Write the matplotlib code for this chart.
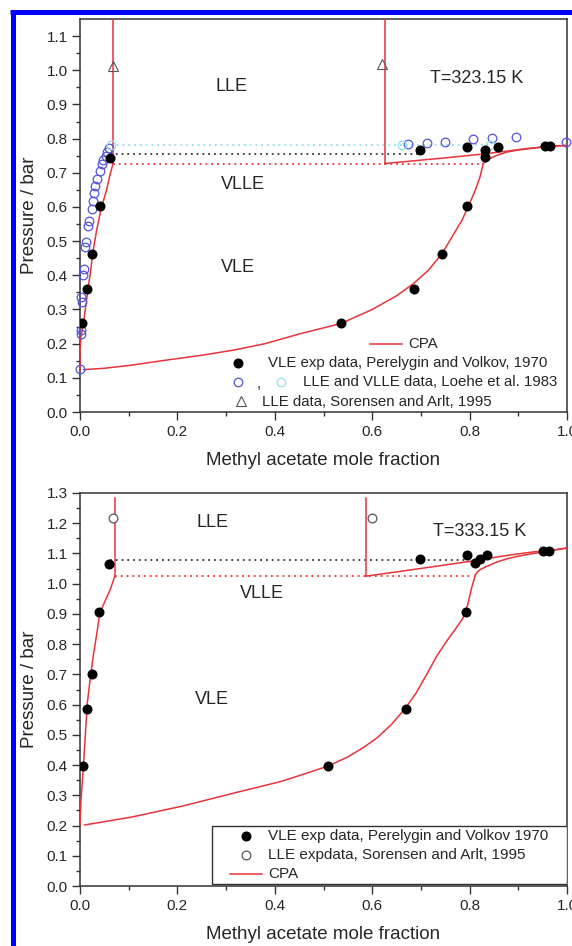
import matplotlib
matplotlib.use("Agg")
import matplotlib.pyplot as plt
from matplotlib.lines import Line2D
from matplotlib.patches import Rectangle

plt.rcParams['font.family'] = ['Liberation Sans', 'DejaVu Sans']

RED = "#e8333a"
BLUE_O = "#5454dc"
CYAN_O = "#8fe0ec"
TXT = "#262626"

# ---------------- T = 323.15 K ----------------
t1_bub_w_x = [0.000, 0.000, 0.002, 0.007, 0.012, 0.017, 0.022, 0.026, 0.030, 0.034, 0.039, 0.044, 0.050, 0.055, 0.061, 0.068]
t1_bub_w_p = [0.123, 0.180, 0.220, 0.259, 0.312, 0.365, 0.415, 0.463, 0.497, 0.531, 0.565, 0.600, 0.627, 0.652, 0.690, 0.728]
t1_lle_w_x = [0.068, 0.068]
t1_lle_w_p = [0.728, 1.15]
t1_lle_o_x = [0.626, 0.626]
t1_lle_o_p = [0.727, 1.15]
t1_bub_o_x = [0.626, 0.700, 0.760, 0.828, 0.880, 0.924, 0.965, 1.000]
t1_bub_o_p = [0.727, 0.737, 0.745, 0.755, 0.764, 0.772, 0.777, 0.780]
t1_dew_w_x = [0.008, 0.050, 0.100, 0.178, 0.250, 0.315, 0.380, 0.452, 0.536, 0.600, 0.650, 0.684, 0.715, 0.743, 0.765, 0.784, 0.800, 0.812, 0.821, 0.828]
t1_dew_w_p = [0.124, 0.128, 0.136, 0.152, 0.166, 0.181, 0.200, 0.229, 0.259, 0.300, 0.340, 0.375, 0.414, 0.463, 0.515, 0.560, 0.610, 0.650, 0.686, 0.727]
t1_dew_o_x = [0.828, 0.835, 0.845, 0.856, 0.875, 0.897, 0.925, 0.951, 0.975, 1.000]
t1_dew_o_p = [0.727, 0.735, 0.744, 0.751, 0.760, 0.766, 0.771, 0.776, 0.779, 0.780]
t1_vlle_cpa = 0.727
t1_vlle_cpa_x = [0.068, 0.828]
t1_vlle_exp = 0.754
t1_vlle_exp_x = [0.062, 0.698]
t1_vlle_loehe = 0.781
t1_vlle_loehe_x = [0.064, 0.842]

t1_vle_x = [0.005, 0.015, 0.024, 0.042, 0.062, 0.536, 0.686, 0.743, 0.794, 0.698, 0.794, 0.832, 0.832, 0.859, 0.955, 0.965]
t1_vle_p = [0.260, 0.360, 0.462, 0.602, 0.744, 0.259, 0.359, 0.463, 0.603, 0.766, 0.774, 0.766, 0.746, 0.774, 0.778, 0.778]
t1_loehe_x = [0.000, 0.002, 0.003, 0.005, 0.003, 0.007, 0.008, 0.010, 0.012, 0.017, 0.019, 0.024, 0.026, 0.029,
              0.031, 0.034, 0.041, 0.045, 0.048, 0.053, 0.056, 0.060,
              0.674, 0.712, 0.749, 0.808, 0.847, 0.895, 0.998]
t1_loehe_p = [0.127, 0.227, 0.239, 0.322, 0.336, 0.402, 0.419, 0.482, 0.497, 0.545, 0.560, 0.594, 0.618, 0.642,
              0.662, 0.681, 0.706, 0.725, 0.737, 0.749, 0.762, 0.773,
              0.783, 0.788, 0.791, 0.798, 0.801, 0.806, 0.791]
t1_loehe_vlle_x = [0.064, 0.661, 0.842]
t1_loehe_vlle_p = [0.782, 0.781, 0.781]
t1_sor_x = [0.068, 0.620]
t1_sor_p = [1.012, 1.017]

# ---------------- T = 333.15 K ----------------
t2_bub_w_x = [0.000, 0.002, 0.007, 0.011, 0.015, 0.021, 0.027, 0.034, 0.041, 0.051, 0.062, 0.071]
t2_bub_w_p = [0.200, 0.285, 0.395, 0.500, 0.605, 0.685, 0.759, 0.830, 0.904, 0.941, 0.980, 1.023]
t2_lle_w_x = [0.071, 0.071]
t2_lle_w_p = [1.023, 1.285]
t2_lle_o_x = [0.587, 0.587]
t2_lle_o_p = [1.025, 1.285]
t2_bub_o_x = [0.587, 0.650, 0.720, 0.780, 0.821, 0.870, 0.930, 0.965, 1.000]
t2_bub_o_p = [1.025, 1.039, 1.055, 1.069, 1.079, 1.092, 1.105, 1.110, 1.118]
t2_dew_w_x = [0.010, 0.109, 0.212, 0.315, 0.411, 0.452, 0.510, 0.550, 0.582, 0.610, 0.640, 0.669, 0.690, 0.712,
              0.732, 0.752, 0.770, 0.786, 0.796, 0.804, 0.811]
t2_dew_w_p = [0.202, 0.229, 0.265, 0.307, 0.345, 0.366, 0.397, 0.427, 0.458, 0.490, 0.535, 0.590, 0.638, 0.700,
              0.759, 0.808, 0.848, 0.885, 0.930, 0.985, 1.025]
t2_dew_o_x = [0.811, 0.814, 0.822, 0.835, 0.855, 0.876, 0.900, 0.924, 0.958, 1.000]
t2_dew_o_p = [1.025, 1.035, 1.047, 1.057, 1.071, 1.082, 1.091, 1.098, 1.107, 1.118]
t2_vlle_cpa = 1.025
t2_vlle_cpa_x = [0.071, 0.808]
t2_vlle_exp = 1.077
t2_vlle_exp_x = [0.062, 0.794]

t2_vle_x = [0.006, 0.015, 0.025, 0.039, 0.060, 0.509, 0.669, 0.793, 0.698, 0.794, 0.811, 0.821, 0.836, 0.951, 0.964]
t2_vle_p = [0.397, 0.586, 0.702, 0.907, 1.066, 0.397, 0.586, 0.907, 1.082, 1.094, 1.068, 1.083, 1.096, 1.107, 1.107]
t2_sor_x = [0.068, 0.600]
t2_sor_p = [1.218, 1.218]

x_ticks = [0.0, 0.2, 0.4, 0.6, 0.8, 1.0]
x_tick_labels = ["0.0", "0.2", "0.4", "0.6", "0.8", "1.0"]
y1_ticks = [0.0, 0.1, 0.2, 0.3, 0.4, 0.5, 0.6, 0.7, 0.8, 0.9, 1.0, 1.1]
y2_ticks = [0.0, 0.1, 0.2, 0.3, 0.4, 0.5, 0.6, 0.7, 0.8, 0.9, 1.0, 1.1, 1.2, 1.3]

W, H = 572, 946
fig = plt.figure(figsize=(W / 100, H / 100), dpi=100)


def px_axes(left, top, right, bottom):
    return fig.add_axes([left / W, 1 - bottom / H, (right - left) / W, (bottom - top) / H])


ax1 = px_axes(80, 19, 567, 412)
ax2 = px_axes(80, 493, 567, 886)


def style_axes(ax, ylim, yticks):
    ax.set_xlim(0, 1.0)
    ax.set_ylim(*ylim)
    ax.set_xticks(x_ticks)
    ax.set_xticklabels(x_tick_labels)
    ax.set_xticks([0.1, 0.3, 0.5, 0.7, 0.9], minor=True)
    ax.set_yticks(yticks)
    ax.set_yticklabels([f"{v:.1f}" for v in yticks])
    ax.set_yticks([v + 0.05 for v in yticks[:-1]], minor=True)
    ax.tick_params(which="major", direction="out", length=6, width=1.0, labelsize=11,
                   labelcolor=TXT, color="#333333", pad=3)
    ax.tick_params(which="minor", direction="out", length=3.2, width=1.0, color="#333333")
    ax.tick_params(top=False, right=False)
    for s in ax.spines.values():
        s.set_linewidth(1.1)
        s.set_color("#333333")
    ax.set_xlabel("Methyl acetate mole fraction", fontsize=13.5, color=TXT, labelpad=10)
    ax.set_ylabel("Pressure / bar", fontsize=13.5, color=TXT, labelpad=6)


def cpa(ax, x, p):
    ax.plot(x, p, color=RED, lw=1.1, zorder=3)


def hdotted(ax, y, xs, color, z=2):
    ax.plot(xs, [y, y], color=color, lw=1.3, linestyle=(0, (1, 2.2)), zorder=z)


# ---------- upper panel ----------
style_axes(ax1, (0, 1.15), y1_ticks)
hdotted(ax1, t1_vlle_loehe, t1_vlle_loehe_x, CYAN_O)
hdotted(ax1, t1_vlle_exp, t1_vlle_exp_x, "#333333")
hdotted(ax1, t1_vlle_cpa, t1_vlle_cpa_x, RED)
for xs, ps in [(t1_bub_w_x, t1_bub_w_p), (t1_lle_w_x, t1_lle_w_p), (t1_lle_o_x, t1_lle_o_p),
               (t1_bub_o_x, t1_bub_o_p), (t1_dew_w_x, t1_dew_w_p), (t1_dew_o_x, t1_dew_o_p)]:
    cpa(ax1, xs, ps)
ax1.plot(t1_loehe_x, t1_loehe_p, "o", ms=6.2, mfc="none", mec=BLUE_O, mew=0.9, zorder=4, clip_on=False)
ax1.plot(t1_loehe_vlle_x, t1_loehe_vlle_p, "o", ms=6.2, mfc="none", mec=CYAN_O, mew=0.9, zorder=4)
ax1.plot(t1_vle_x, t1_vle_p, "o", ms=6.2, color="black", zorder=5)
ax1.plot(t1_sor_x, t1_sor_p, "^", ms=7.5, mfc="none", mec="#555555", mew=0.8, zorder=5)

ax1.text(0.312, 0.953, "LLE", fontsize=13, color=TXT, ha="center", va="center")
ax1.text(0.335, 0.667, "VLLE", fontsize=13, color=TXT, ha="center", va="center")
ax1.text(0.325, 0.423, "VLE", fontsize=13, color=TXT, ha="center", va="center")
ax1.text(0.815, 0.977, "T=323.15 K", fontsize=13, color=TXT, ha="center", va="center")

# legend keys (axes fraction)
tr = ax1.transAxes
ax1.plot([0.595, 0.661], [0.173, 0.173], color=RED, lw=1.1, transform=tr, clip_on=False)
ax1.text(0.673, 0.173, "CPA", fontsize=10.8, color=TXT, va="center", transform=tr)
ax1.plot([0.324], [0.125], "o", ms=6.2, color="black", transform=tr, clip_on=False)
ax1.text(0.386, 0.125, "VLE exp data, Perelygin and Volkov, 1970", fontsize=10.8, color=TXT,
         va="center", transform=tr)
ax1.plot([0.324], [0.076], "o", ms=6.2, mfc="none", mec=BLUE_O, mew=0.9, transform=tr, clip_on=False)
ax1.text(0.368, 0.070, ",", fontsize=10.8, color=TXT, va="center", ha="center", transform=tr)
ax1.plot([0.413], [0.076], "o", ms=6.2, mfc="none", mec=CYAN_O, mew=0.9, transform=tr, clip_on=False)
ax1.text(0.458, 0.076, "LLE and VLLE data, Loehe et al. 1983", fontsize=10.8, color=TXT,
         va="center", transform=tr)
ax1.plot([0.331], [0.027], "^", ms=7.5, mfc="none", mec="#555555", mew=0.8, transform=tr, clip_on=False)
ax1.text(0.374, 0.025, "LLE data, Sorensen and Arlt, 1995", fontsize=10.8, color=TXT,
         va="center", transform=tr)

# ---------- lower panel ----------
style_axes(ax2, (0, 1.3), y2_ticks)
hdotted(ax2, t2_vlle_exp, t2_vlle_exp_x, "#333333")
hdotted(ax2, t2_vlle_cpa, t2_vlle_cpa_x, RED)
for xs, ps in [(t2_bub_w_x, t2_bub_w_p), (t2_lle_w_x, t2_lle_w_p), (t2_lle_o_x, t2_lle_o_p),
               (t2_bub_o_x, t2_bub_o_p), (t2_dew_w_x, t2_dew_w_p), (t2_dew_o_x, t2_dew_o_p)]:
    cpa(ax2, xs, ps)
ax2.plot(t2_vle_x, t2_vle_p, "o", ms=6.2, color="black", zorder=5)
ax2.plot(t2_sor_x, t2_sor_p, "o", ms=6.3, mfc="white", mec="#555555", mew=0.9, zorder=5)

ax2.text(0.273, 1.202, "LLE", fontsize=13, color=TXT, ha="center", va="center")
ax2.text(0.374, 0.967, "VLLE", fontsize=13, color=TXT, ha="center", va="center")
ax2.text(0.271, 0.616, "VLE", fontsize=13, color=TXT, ha="center", va="center")
ax2.text(0.820, 1.172, "T=333.15 K", fontsize=13, color=TXT, ha="center", va="center")

tr2 = ax2.transAxes
ax2.add_patch(Rectangle((0.271, 0.004), 0.729, 0.149, transform=tr2, fill=True, fc="white",
                        ec="#333333", lw=1.0, zorder=6))
ax2.plot([0.341], [0.127], "o", ms=6.2, color="black", transform=tr2, zorder=7, clip_on=False)
ax2.text(0.386, 0.127, "VLE exp data, Perelygin and Volkov 1970", fontsize=11, color=TXT,
         va="center", transform=tr2, zorder=7)
ax2.plot([0.341], [0.079], "o", ms=6.3, mfc="white", mec="#555555", mew=0.9, transform=tr2, zorder=7,
         clip_on=False)
ax2.text(0.386, 0.079, "LLE expdata, Sorensen and Arlt, 1995", fontsize=11, color=TXT,
         va="center", transform=tr2, zorder=7)
ax2.plot([0.308, 0.374], [0.031, 0.031], color=RED, lw=1.1, transform=tr2, zorder=7, clip_on=False)
ax2.text(0.386, 0.031, "CPA", fontsize=11, color=TXT, va="center", transform=tr2, zorder=7)

# blue frame around the figure
fig.add_artist(Line2D([12.5 / W, 12.5 / W], [1 - 10 / H, -0.05], color="#0000ff", lw=3.6,
                      transform=fig.transFigure, solid_capstyle="butt"))
fig.add_artist(Line2D([10 / W, 1.05], [1 - 12.5 / H, 1 - 12.5 / H], color="#0000ff", lw=3.6,
                      transform=fig.transFigure, solid_capstyle="butt"))

fig.savefig("out.png", dpi=100)
